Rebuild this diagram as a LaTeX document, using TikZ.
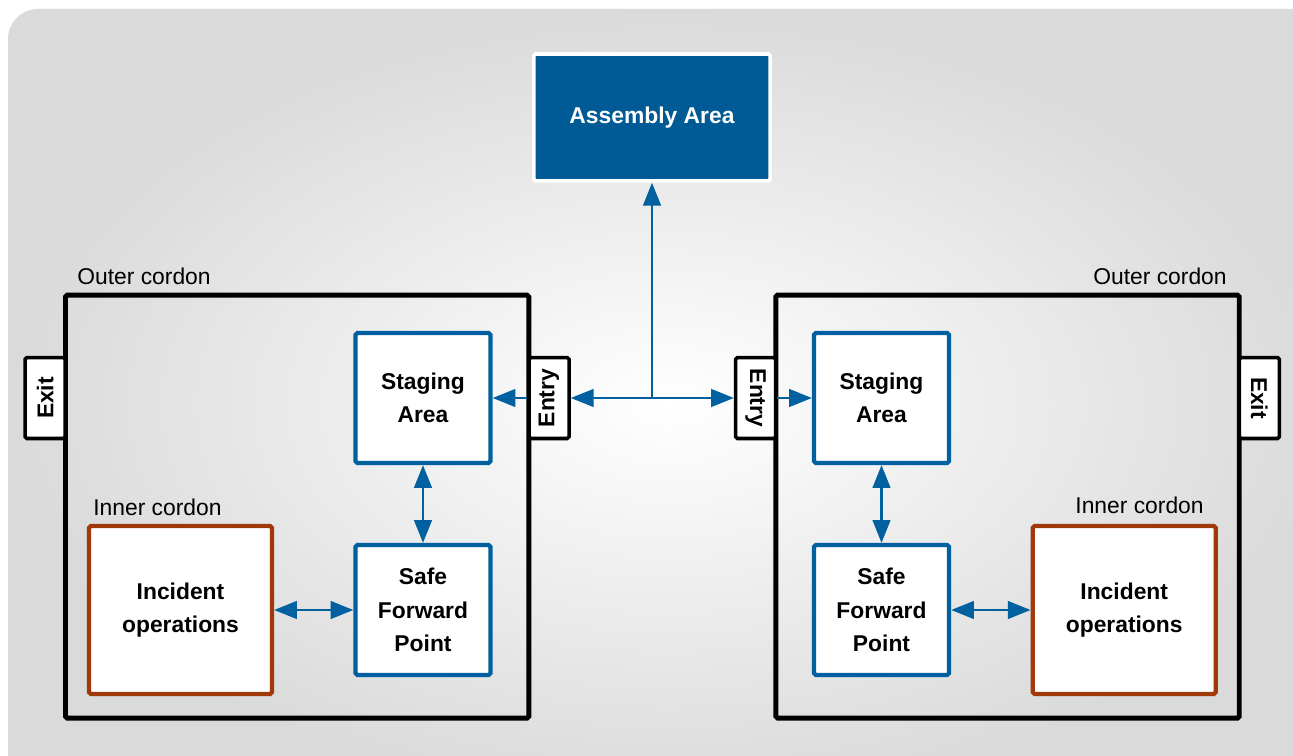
\documentclass[tikz,border=0pt]{standalone}
\usepackage{fontspec}
\setmainfont{Liberation Sans}
\usetikzlibrary{arrows.meta}

\definecolor{areablue}{RGB}{0,90,150}
\definecolor{boxblue}{RGB}{0,96,160}
\definecolor{cordonbrown}{RGB}{160,56,10}
\definecolor{bggrey}{RGB}{218,218,218}

\begin{document}
\begin{tikzpicture}[x=0.02cm,y=-0.02cm,>={Triangle[length=13pt,width=10pt]},
		boldtext/.style={font=\bfseries\fontsize{13}{19}\selectfont},
		lbl/.style={font=\fontsize{13}{15}\selectfont,inner sep=0pt},
		cordon/.style={draw=black,line width=2.8pt,rounded corners=1pt,
			minimum width=9.27cm,minimum height=8.46cm,inner sep=0pt},
		tabbox/.style={draw=black,fill=white,line width=2pt,rounded corners=1pt,
			minimum width=0.8cm,minimum height=1.62cm,inner sep=0pt,
			font=\bfseries\fontsize{13}{15}\selectfont},
		area/.style={boldtext,draw=boxblue,fill=white,line width=2.4pt,
			rounded corners=1pt,align=center,inner sep=0pt,
			minimum width=2.7cm,minimum height=2.6cm},
		incident/.style={area,draw=cordonbrown,minimum width=3.66cm,minimum height=3.36cm},
		assembly/.style={boldtext,fill=areablue,draw=white,text=white,line width=2pt,
			rounded corners=1pt,minimum width=4.73cm,minimum height=2.54cm},
		link/.style={color=boxblue,line width=1.5pt}]

		% background
		\clip (0,0) rectangle (1293,756);
		\shade[inner color=white,outer color=bggrey,rounded corners=0.6cm]
		(8,9) rectangle (1330,800);

		% cordons
		\node[cordon] (outerL) at (297.2,506.6) {};
		\node[cordon] (outerR) at (1007.5,506.6) {};
		\node[lbl,anchor=base west] (outerLtxt) at (77,285) {Outer cordon};
		\node[lbl,anchor=base east] (outerRtxt) at (1227,285) {Outer cordon};

		\node[tabbox] (exitL) at (45.2,398) {\rotatebox{90}{Exit}};
		\node[tabbox] (entryL) at (549,398) {\rotatebox{90}{Entry}};
		\node[tabbox] (entryR) at (755.7,398) {\rotatebox{-90}{Entry}};
		\node[tabbox] (exitR) at (1259.3,398) {\rotatebox{-90}{Exit}};

		\node[assembly] (assembly) at (652,117.5) {Assembly Area};
		\coordinate (hub) at (652,398);

		% left side
		\node[area] (stageL) at (423,398) {Staging\\Area};
		\node[area] (sfpL) at (423,610) {Safe\\Forward\\Point};
		\node[incident] (incL) at (180.5,610) {Incident\\operations};
		\node[lbl,anchor=base west] (innerLtxt) at (93,515) {Inner cordon};

		% right side
		\node[area] (stageR) at (881.5,398) {Staging\\Area};
		\node[area] (sfpR) at (881.5,610) {Safe\\Forward\\Point};
		\node[incident] (incR) at (1124.2,610) {Incident\\operations};
		\node[lbl,anchor=base east] (innerRtxt) at (1204,513.5) {Inner cordon};

		\path[link]
		(hub) edge[->] (assembly)
		(entryL) edge[->] (stageL)
		(entryR) edge[->] (stageR)
		(entryL) edge[<->] (entryR)
		(stageL) edge[<->] (sfpL)
		(stageR) edge[<->] (sfpR)
		(incL) edge[<->] (sfpL)
		(sfpR) edge[<->] (incR);
	\end{tikzpicture}
\end{document}
